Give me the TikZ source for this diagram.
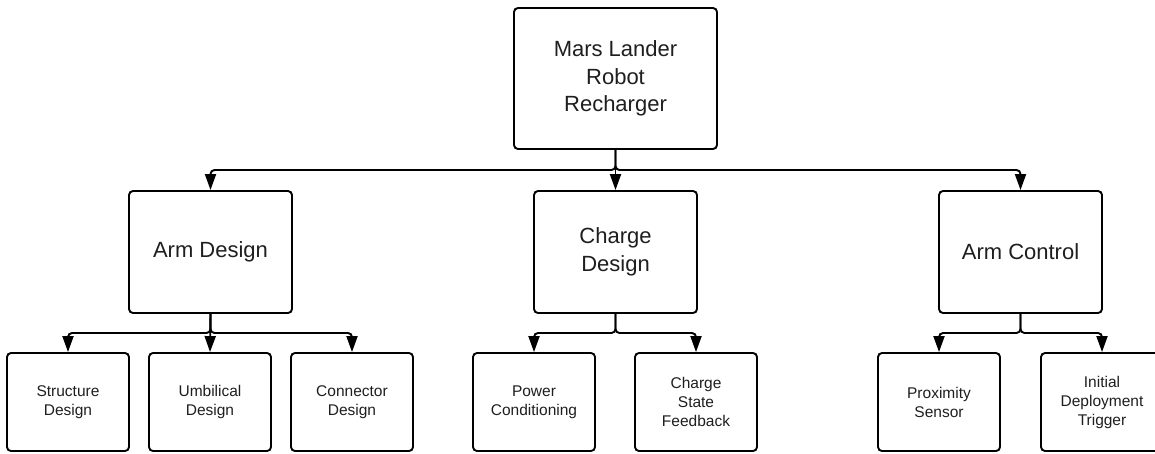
\documentclass[tikz,border=0pt]{standalone}
\usepackage{fontspec}
\setmainfont{Liberation Sans}
\usetikzlibrary{arrows.meta}
\begin{document}
\begin{tikzpicture}[x=1pt,y=-1pt,
  box/.style={draw=black, line width=1.9pt, rounded corners=4pt, fill=white,
    align=center, text=black!88, inner sep=0pt},
  rootbox/.style={box, minimum width=203pt, minimum height=141pt,
    font=\fontsize{22}{27.5}\selectfont},
  midbox/.style={box, minimum width=163pt, minimum height=122pt,
    font=\fontsize{22}{27.5}\selectfont},
  leafbox/.style={box, minimum width=122pt, minimum height=98pt,
    font=\fontsize{15.5}{19}\selectfont},
  conn/.style={draw=black, line width=1.9pt, rounded corners=4pt,
    -{Triangle[length=16pt,width=11pt]}}
]
\useasboundingbox (0,0) rectangle (1155,453);

% root
\node[rootbox] (root) at (615.5,78.5) {Mars Lander\\Robot\\Recharger};

% second level
\node[midbox] (arm)  at (210.5,252) {Arm Design};
\node[midbox] (chg)  at (615.5,252) {Charge\\Design};
\node[midbox] (ctl)  at (1020.5,252) {Arm Control};

% leaves
\node[leafbox] (str) at (68,402)   {Structure\\Design};
\node[leafbox] (umb) at (210,402)  {Umbilical\\Design};
\node[leafbox] (con) at (352,402)  {Connector\\Design};
\node[leafbox] (pwr) at (534,402)  {Power\\Conditioning};
\node[leafbox] (csf) at (696,402)  {Charge\\State\\Feedback};
\node[leafbox] (prx) at (939,402)  {Proximity\\Sensor};
\node[leafbox] (idt) at (1102,402) {Initial\\Deployment\\Trigger};

% bus heights
\coordinate (busA) at (0,170);
\coordinate (busB) at (0,333);

% root to second level
\draw[conn] (root.south) |- (arm.north |- busA) -- (arm.north);
\draw[conn] (root.south) -- (chg.north);
\draw[conn] (root.south) |- (ctl.north |- busA) -- (ctl.north);

% arm design branch
\draw[conn] (arm.south) |- (str.north |- busB) -- (str.north);
\draw[conn] (arm.south) -- (umb.north);
\draw[conn] (arm.south) |- (con.north |- busB) -- (con.north);

% charge design branch
\draw[conn] (chg.south) |- (pwr.north |- busB) -- (pwr.north);
\draw[conn] (chg.south) |- (csf.north |- busB) -- (csf.north);

% arm control branch
\draw[conn] (ctl.south) |- (prx.north |- busB) -- (prx.north);
\draw[conn] (ctl.south) |- (idt.north |- busB) -- (idt.north);
\end{tikzpicture}
\end{document}
